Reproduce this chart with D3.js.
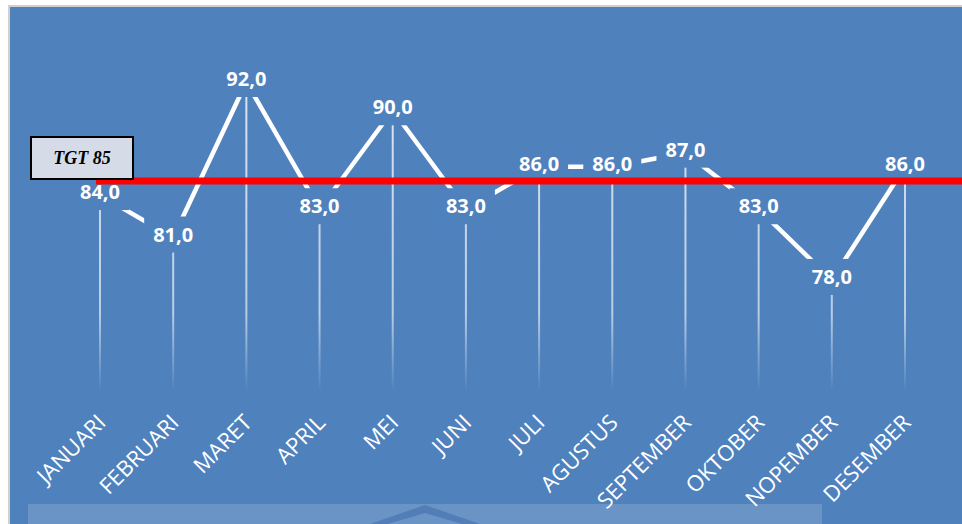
<!DOCTYPE html>
<html><head><meta charset="utf-8">
<script src="https://cdn.jsdelivr.net/npm/d3@7"></script>
<style>body{margin:0;background:#fff;overflow:hidden}</style>
</head><body>
<svg id="c" width="962" height="524"></svg>
<script>
const months = ["JANUARI","FEBRUARI","MARET","APRIL","MEI","JUNI","JULI","AGUSTUS","SEPTEMBER","OKTOBER","NOPEMBER","DESEMBER"];
const values = [84,81,92,83,90,83,86,86,87,83,78,86];
const target = 85;
const targetLabel = "TGT 85";

const svg = d3.select("#c");
const W = 962, H = 524;
const bg = "#4F81BD";

// frame
svg.append("rect").attr("x",8).attr("y",5).attr("width",W-8).attr("height",H-5).attr("fill","#D0D0D0");
svg.append("rect").attr("x",10).attr("y",7).attr("width",W-10).attr("height",H-7).attr("fill",bg);

// bottom light strip with faint shape
svg.append("rect").attr("x",28).attr("y",504).attr("width",794).attr("height",20).attr("fill","#6A93C6");
svg.append("path").attr("d","M370,524 L425,505 L480,524 L462,524 L425,513 L388,524 Z").attr("fill","#4B79B3").attr("opacity",0.8);

const x = d3.scalePoint().domain(months).range([100,905]);
const y = d3.scaleLinear().domain([70,95]).range([393,39.6]);

const defs = svg.append("defs");
const g = defs.append("linearGradient").attr("id","dg").attr("gradientUnits","userSpaceOnUse")
  .attr("x1",0).attr("x2",0).attr("y1",80).attr("y2",392);
g.append("stop").attr("offset","0%").attr("stop-color","#fff").attr("stop-opacity",0.8);
g.append("stop").attr("offset","75%").attr("stop-color","#fff").attr("stop-opacity",0.6);
g.append("stop").attr("offset","100%").attr("stop-color","#fff").attr("stop-opacity",0.0);

const data = months.map((m,i)=>({m, v: values[i]}));

// line
svg.append("path").datum(data)
  .attr("d", d3.line().x(d=>x(d.m)).y(d=>y(d.v)))
  .attr("fill","none").attr("stroke","#fff").attr("stroke-width",4.5).attr("stroke-linejoin","round");

// drop lines
svg.append("g").selectAll("line").data(data).join("line")
  .attr("x1",d=>x(d.m)).attr("x2",d=>x(d.m))
  .attr("y1",d=>y(d.v)).attr("y2",y(70)-3)
  .attr("stroke","url(#dg)").attr("stroke-width",2);

// label boxes (mask) and labels
const fmt = d3.format(".1f");
const lab = svg.append("g").selectAll("g").data(data).join("g")
  .attr("transform",d=>`translate(${x(d.m)},${y(d.v)-3})`);
lab.append("rect").attr("x",-29).attr("y",-18).attr("width",58).attr("height",36).attr("fill",bg);
lab.append("text").attr("text-anchor","middle").attr("dy","0.36em")
  .attr("font-family","'Open Sans', sans-serif").attr("font-weight",700).attr("font-size",20)
  .attr("fill","#fff").text(d=>fmt(d.v).replace(".",","));

// month labels
const xa = svg.append("g").call(d3.axisBottom(x).tickSize(0).tickFormat(d=>d));
xa.select(".domain").remove();
xa.selectAll("text")
  .attr("transform",d=>`translate(${x(d)+7},424) rotate(-45)`)
  .attr("x",0).attr("y",0).attr("dy",0)
  .attr("text-anchor","end")
  .attr("font-family","'Open Sans', sans-serif").attr("font-size",22)
  .attr("fill","#fff");
xa.selectAll(".tick").attr("transform",null);

// target line
svg.append("line").attr("x1",x(months[0])-4).attr("x2",W)
  .attr("y1",y(target)).attr("y2",y(target))
  .attr("stroke","#FF0000").attr("stroke-width",7);

// target label box
svg.append("rect").attr("x",31).attr("y",137).attr("width",102).attr("height",42)
  .attr("fill","#D5DCE8").attr("stroke","#000").attr("stroke-width",2);
svg.append("text").attr("x",82).attr("y",158).attr("dy","0.35em").attr("text-anchor","middle")
  .attr("font-family","'Liberation Serif', serif").attr("font-weight",700).attr("font-style","italic")
  .attr("font-size",18).attr("fill","#000").text(targetLabel);
</script>
</body></html>
